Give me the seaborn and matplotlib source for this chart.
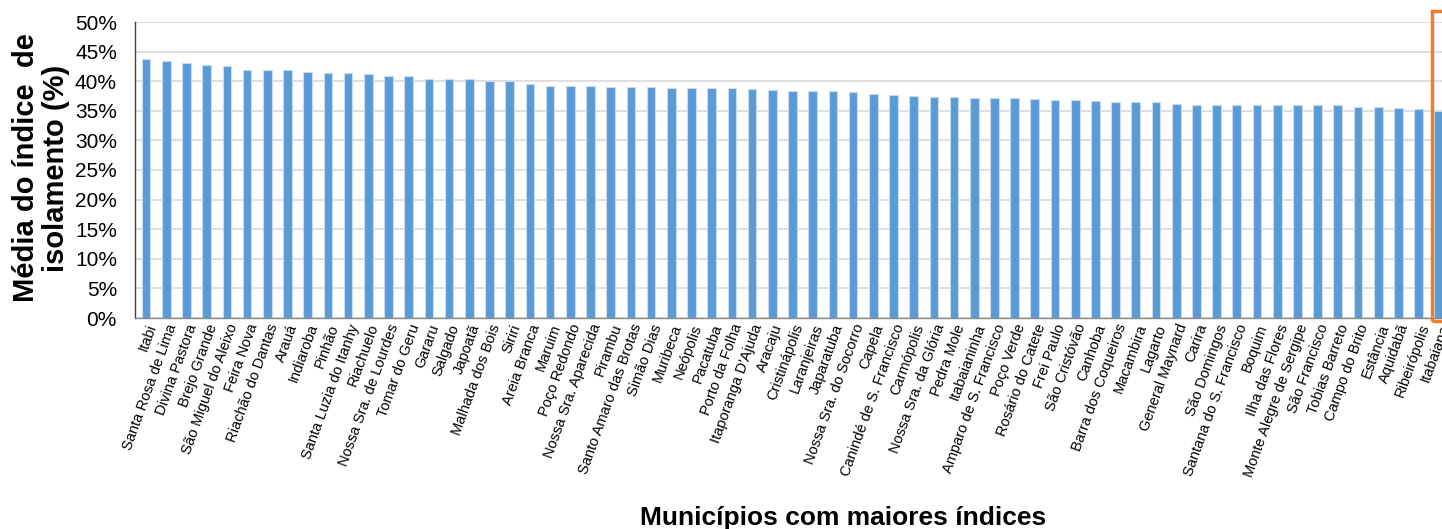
import pandas as pd
import matplotlib.pyplot as plt
import seaborn as sns
from matplotlib.ticker import PercentFormatter
from matplotlib.patches import Rectangle

sns.set_theme(style="white")
plt.rcParams['font.family'] = ['Liberation Sans', 'DejaVu Sans']
plt.rcParams['text.color'] = 'black'
plt.rcParams['xtick.color'] = 'black'
plt.rcParams['ytick.color'] = 'black'

# Data
municipios = [
    "Itabi", "Santa Rosa de Lima", "Divina Pastora", "Brejo Grande",
    "São Miguel do Aleixo", "Feira Nova", "Riachão do Dantas", "Arauá",
    "Indiaroba", "Pinhão", "Santa Luzia do Itanhy", "Riachuelo",
    "Nossa Sra. de Lourdes", "Tomar do Geru", "Gararu", "Salgado", "Japoatã",
    "Malhada dos Bois", "Siriri", "Areia Branca", "Maruim", "Poço Redondo",
    "Nossa Sra. Aparecida", "Pirambu", "Santo Amaro das Brotas", "Simão Dias",
    "Muribeca", "Neópolis", "Pacatuba", "Porto da Folha", "Itaporanga D'Ajuda",
    "Aracaju", "Cristinápolis", "Laranjeiras", "Japaratuba",
    "Nossa Sra. do Socorro", "Capela", "Canindé de S. Francisco", "Carmópolis",
    "Nossa Sra. da Glória", "Pedra Mole", "Itabaianinha",
    "Amparo de S. Francisco", "Poço Verde", "Rosário do Catete", "Frei Paulo",
    "São Cristóvão", "Canhoba", "Barra dos Coqueiros", "Macambira", "Lagarto",
    "General Maynard", "Carira", "São Domingos", "Santana do S. Francisco",
    "Boquim", "Ilha das Flores", "Monte Alegre de Sergipe", "São Francisco",
    "Tobias Barreto", "Campo do Brito", "Estância", "Aquidabã", "Ribeirópolis",
    "Itabaiana",
]
isolamento = [
    43.7, 43.4, 43.0, 42.7, 42.6, 41.9, 41.9, 41.9, 41.6, 41.4,
    41.4, 41.2, 40.9, 40.8, 40.4, 40.4, 40.3, 40.0, 40.0, 39.6,
    39.2, 39.2, 39.2, 39.0, 39.0, 39.0, 38.85, 38.85, 38.85, 38.85,
    38.7, 38.5, 38.3, 38.3, 38.3, 38.2, 37.8, 37.7, 37.5, 37.3,
    37.3, 37.2, 37.2, 37.2, 37.0, 36.8, 36.8, 36.7, 36.5, 36.5,
    36.5, 36.2, 36.0, 36.0, 36.0, 36.0, 36.0, 36.0, 35.9, 35.9,
    35.7, 35.7, 35.5, 35.25, 34.9,
]

df = pd.DataFrame({"municipio": municipios, "isolamento": [v / 100 for v in isolamento]})

fig = plt.figure(figsize=(14.42, 5.29), dpi=100)
W, H = 1442, 529
ax = fig.add_axes([135 / W, 1 - 318 / H, (1459 - 135) / W, (318 - 22) / H])

sns.barplot(data=df, x="municipio", y="isolamento", color="#5B9BD5",
            saturation=1, width=0.43, edgecolor="#C5DCF0", linewidth=0.8, ax=ax)

ax.set_ylim(0, 0.5)
ax.set_xlim(-0.55, 65)
ax.yaxis.set_major_locator(plt.MultipleLocator(0.05))
ax.yaxis.set_major_formatter(PercentFormatter(1.0, decimals=0))
ax.grid(axis="y", color="#D9D9D9", linewidth=1.2)
ax.set_axisbelow(True)
ax.tick_params(axis="y", labelsize=15, length=0, pad=13)
ax.tick_params(axis="x", length=0, pad=3)
plt.setp(ax.get_xticklabels(), rotation=70, ha="right", rotation_mode="anchor",
         fontsize=10.5)
ax.set_xlabel("")
ax.set_ylabel("")
for s in ["top", "right"]:
    ax.spines[s].set_visible(False)
ax.spines["left"].set_color("#404040")
ax.spines["left"].set_linewidth(1.0)
ax.spines["bottom"].set_color("#898989")
ax.spines["bottom"].set_linewidth(1.0)

fig.text(41 / W, 1 - 168 / H, "Média do índice  de\nisolamento (%)", rotation=90,
         ha="center", va="center", multialignment="center", linespacing=1.05,
         fontsize=21, fontweight="bold")
fig.text(843 / W, 1 - 525 / H, "Municípios com maiores índices",
         ha="center", va="baseline", fontsize=19, fontweight="bold")

# orange highlight box around the last bar
fig.add_artist(Rectangle((1432 / W, 1 - 321 / H), 40 / W, 310 / H,
                         transform=fig.transFigure, fill=False,
                         edgecolor="#ED7D31", linewidth=2.5))

fig.savefig("out.png", dpi=100)
